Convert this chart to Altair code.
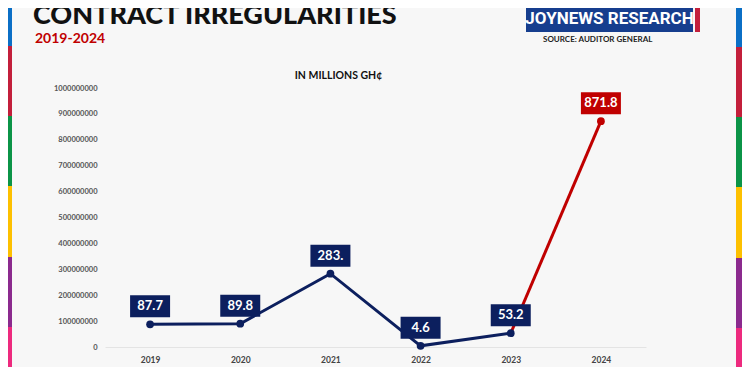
import altair as alt
import pandas as pd

# ---- data ----
years = ["2019", "2020", "2021", "2022", "2023", "2024"]
values = [87_700_000, 89_800_000, 283_000_000, 4_600_000, 53_200_000, 871_800_000]
labels = ["87.7", "89.8", "283.", "4.6", "53.2", "871.8"]
series = ["main", "main", "main", "main", "main", "last"]
y_ticks = [0, 100000000, 200000000, 300000000, 400000000, 500000000,
           600000000, 700000000, 800000000, 900000000, 1000000000]

NAVY = "#0c1f5e"
RED = "#c00000"
BG = "#f7f7f7"
FONT = "Lato"

pts = pd.DataFrame({"year": years, "value": values, "label": labels, "seg": series})

# line: navy up to 2023, red from 2023 to 2024
line_rows = []
for i in range(len(years) - 1):
    line_rows.append({"year": years[i], "value": values[i], "seg": "main"})
line_rows.append({"year": years[-2], "value": values[-2], "seg": "last"})
line_rows.append({"year": years[-1], "value": values[-1], "seg": "last"})
line_df = pd.DataFrame(line_rows)

color_scale = alt.Scale(domain=["main", "last"], range=[NAVY, RED])

X = alt.X("year:O", scale=alt.Scale(type="point", padding=0.5),
          axis=alt.Axis(title=None, labelAngle=0, domain=True, domainColor="#e4e4e4",
                        domainWidth=1, ticks=False, grid=False, labelFont=FONT,
                        labelFontSize=8.5, labelFontWeight="bold", labelColor="#444",
                        labelPadding=8))
Y = alt.Y("value:Q", scale=alt.Scale(domain=[0, 1_000_000_000], nice=False, zero=True),
          axis=alt.Axis(title=None, values=y_ticks, format="d", domain=False, ticks=False,
                        grid=False, labelFont=FONT, labelFontSize=7.5,
                        labelFontWeight="bold", labelColor="#555", labelPadding=8))
C = alt.Color("seg:N", scale=color_scale, legend=None)

line = alt.Chart(line_df).mark_line(strokeWidth=3).encode(x=X, y=Y, color=C, detail="seg:N")
dots = alt.Chart(pts).mark_circle(size=60, opacity=1).encode(x=X, y=Y, color=C)
boxes = alt.Chart(pts).mark_point(shape="M-1,-0.55H1V0.55H-1Z", size=1600, filled=True,
                                  opacity=1, strokeWidth=0, yOffset=-18).encode(x=X, y=Y, color=C)
box_text = alt.Chart(pts).mark_text(color="white", font=FONT, fontSize=13, fontWeight="bold",
                                    baseline="middle", align="center", yOffset=-18).encode(
    x=X, y=Y, text="label:N")

one = alt.Data(values=[{"a": 1}])


def rect(x0, x1, y0, y1, color):
    return alt.Chart(one).mark_rect(color=color).encode(
        x=alt.value(x0), x2=alt.value(x1), y=alt.value(y0), y2=alt.value(y1))


def txt(s, x, y, size, color, align="left", weight="bold", font=FONT):
    return alt.Chart(one).mark_text(text=s, font=font, fontSize=size, fontWeight=weight,
                                    color=color, align=align, baseline="alphabetic").encode(
        x=alt.value(x), y=alt.value(y))


strip_colors = ["#0b6fc6", "#c31f3b", "#0b9447", "#fdc000", "#8b2a8e", "#ed2a7e"]
strip_bounds = [-90, -42, 28, 98, 169, 239, 290]
decor = []
for i, col in enumerate(strip_colors):
    decor.append(rect(-105, -93, strip_bounds[i], strip_bounds[i + 1], col))
    decor.append(rect(631, 640, strip_bounds[i] + 1, strip_bounds[i + 1] + 1, col))

decor.append(rect(421, 588, -90, -56, "#163e8e"))
decor.append(rect(590, 595, -90, -56, "#c31f3b"))
decor.append(txt("JOYNEWS RESEARCH", 504.5, -64, 17, "white", align="center",
                 font="Roboto"))
decor.append(txt("SOURCE: AUDITOR GENERAL", 438, -46, 8, "#222"))
decor.append(txt("CONTRACT IRREGULARITIES", -72, -64, 27, "#111", weight=900))
decor.append(txt("2019-2024", -70, -45, 14, "#c00000"))
decor.append(txt("IN MILLIONS GH¢", 233.5, -9, 10.5, "#111", align="center"))

chart = alt.layer(line, dots, boxes, box_text, *decor).properties(
    width=541, height=259,
    padding={"left": 97, "top": 80, "right": 96, "bottom": 20},
    autosize=alt.AutoSizeParams(type="none"),
    background=BG,
).configure_view(strokeWidth=0)

chart.save("out.html", embed_options={"renderer": "svg", "actions": False})
